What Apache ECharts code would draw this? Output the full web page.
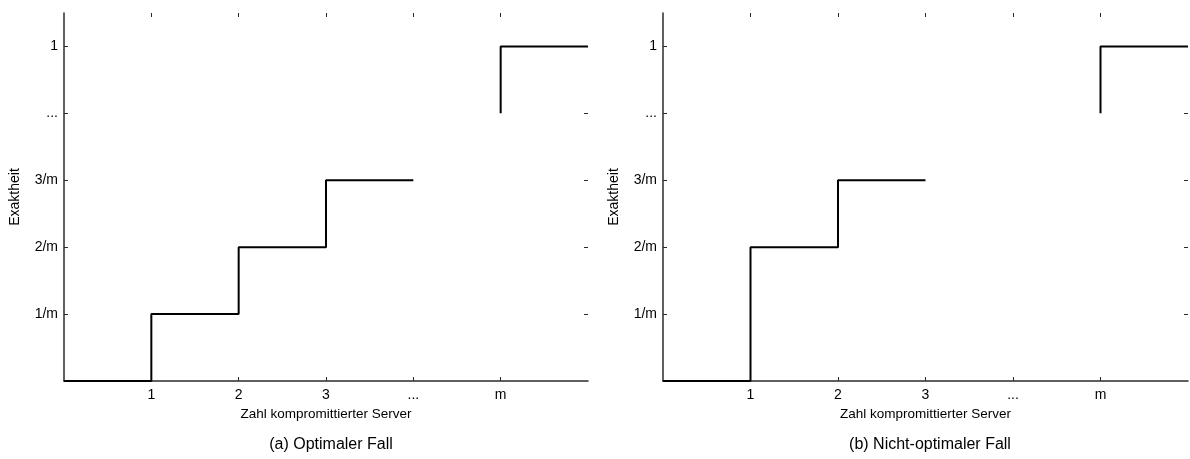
<!DOCTYPE html>
<html>
<head>
<meta charset="utf-8">
<script src="https://cdn.jsdelivr.net/npm/echarts@6/dist/echarts.min.js"></script>
<style>
html,body{margin:0;padding:0;background:#fff;}
#c{width:1190px;height:459px;}
</style>
</head>
<body>
<div id="c"></div>
<script>
// Tick positions and labels
const xTickValues = [1, 2, 3, 4, 5];
const xTickLabels = ['1', '2', '3', '...', 'm'];
const yTickValues = [1, 2, 3, 4, 5];
const yTickLabels = ['1/m', '2/m', '3/m', '...', '1'];

// (a) Optimaler Fall: step function (x, level after step)
const optimalPart1 = [[0, 0], [1, 1], [2, 2], [3, 3], [4, 3]];
const optimalPart2 = [[5, 4], [5, 5], [6, 5]];
// (b) Nicht-optimaler Fall
const nonOptimalPart1 = [[0, 0], [1, 2], [2, 3], [3, 3]];
const nonOptimalPart2 = [[5, 4], [5, 5], [6, 5]];

const captions = ['(a) Optimaler Fall', '(b) Nicht-optimaler Fall'];
const xName = 'Zahl kompromittierter Server';
const yName = 'Exaktheit';

const FONT = 'Liberation Sans, Arial, sans-serif';
const axisColor = '#2b2b2b';

function xLabelFmt(v) { const i = xTickValues.indexOf(v); return i >= 0 ? xTickLabels[i] : ''; }
function yLabelFmt(v) { const i = yTickValues.indexOf(v); return i >= 0 ? yTickLabels[i] : ''; }

const grids = [
  { left: 64, width: 524, top: 13, bottom: 78, containLabel: false, outerBoundsMode: 'none' },
  { left: 663, width: 525, top: 13, bottom: 78, containLabel: false, outerBoundsMode: 'none' }
];

const xAxes = [], yAxes = [];
grids.forEach((g, gi) => {
  xAxes.push({
    type: 'value', gridIndex: gi, min: 0, max: 6, position: 'bottom',
    name: xName, nameLocation: 'middle', nameGap: 25,
    nameTextStyle: { fontFamily: FONT, fontSize: 13.5, color: '#000' },
    axisLine: { show: true, onZero: false, lineStyle: { color: axisColor, width: 1.5 } },
    axisTick: { show: true, inside: true, length: 4, customValues: xTickValues, lineStyle: { color: axisColor, width: 1 } },
    axisLabel: { show: true, customValues: xTickValues, formatter: xLabelFmt, margin: 7, fontFamily: FONT, fontSize: 14, color: '#000' },
    splitLine: { show: false }
  });
  xAxes.push({
    type: 'value', gridIndex: gi, min: 0, max: 6, position: 'top',
    axisLine: { show: true, onZero: false, lineStyle: { color: '#fff', opacity: 0, width: 0 } },
    axisTick: { show: true, inside: true, length: 4, customValues: xTickValues, lineStyle: { color: axisColor, width: 1 } },
    axisLabel: { show: false },
    splitLine: { show: false }
  });
  yAxes.push({
    type: 'value', gridIndex: gi, min: 0, max: 5.5, position: 'left',
    name: yName, nameLocation: 'middle', nameGap: 42, nameRotate: 90,
    nameTextStyle: { fontFamily: FONT, fontSize: 14, color: '#000' },
    axisLine: { show: true, onZero: false, lineStyle: { color: axisColor, width: 1.5 } },
    axisTick: { show: true, inside: true, length: 4, customValues: yTickValues, lineStyle: { color: axisColor, width: 1 } },
    axisLabel: { show: true, customValues: yTickValues, formatter: yLabelFmt, margin: 6, fontFamily: FONT, fontSize: 14, color: '#000' },
    splitLine: { show: false }
  });
  yAxes.push({
    type: 'value', gridIndex: gi, min: 0, max: 5.5, position: 'right',
    axisLine: { show: true, onZero: false, lineStyle: { color: '#fff', opacity: 0, width: 0 } },
    axisTick: { show: true, inside: true, length: 4, customValues: yTickValues, lineStyle: { color: axisColor, width: 1 } },
    axisLabel: { show: false },
    splitLine: { show: false }
  });
});

function stepSeries(data, gi) {
  return {
    type: 'line', step: 'end', data: data,
    xAxisIndex: gi * 2, yAxisIndex: gi * 2,
    showSymbol: false, symbol: 'none', animation: false,
    lineStyle: { color: '#000', width: 2 }
  };
}

const chart = echarts.init(document.getElementById('c'), null, { renderer: 'canvas' });
chart.setOption({
  animation: false,
  backgroundColor: '#fff',
  title: [
    { text: captions[0], left: 326, top: 432, textAlign: 'center',
      textStyle: { fontFamily: FONT, fontSize: 16, fontWeight: 'normal', color: '#000' } },
    { text: captions[1], left: 925, top: 432, textAlign: 'center',
      textStyle: { fontFamily: FONT, fontSize: 16, fontWeight: 'normal', color: '#000' } }
  ],
  grid: grids,
  xAxis: xAxes,
  yAxis: yAxes,
  series: [
    stepSeries(optimalPart1, 0),
    stepSeries(optimalPart2, 0),
    stepSeries(nonOptimalPart1, 1),
    stepSeries(nonOptimalPart2, 1)
  ]
});
</script>
</body>
</html>
